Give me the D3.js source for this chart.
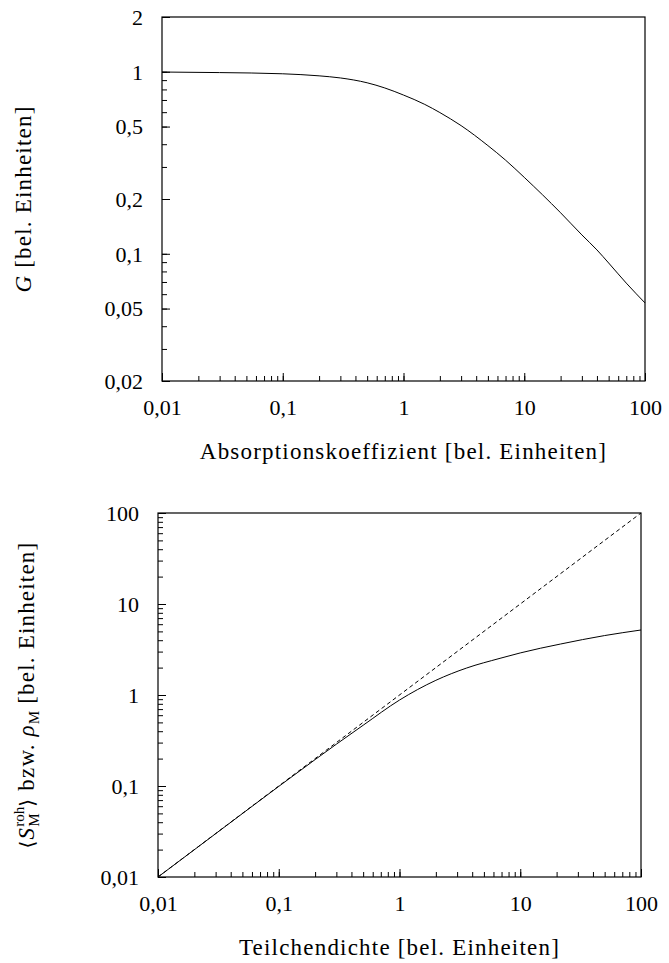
<!DOCTYPE html>
<html>
<head>
<meta charset="utf-8">
<script src="https://cdn.jsdelivr.net/npm/d3@7"></script>
<style>
  body { margin: 0; background: #fff; }
  svg { display: block; }
</style>
</head>
<body>
<div id="chart"></div>
<script>
// top panel: G vs absorption coefficient
const absorbX = [0.01, 0.03, 0.1, 0.2, 0.3, 0.5, 0.7, 1, 1.5, 2, 3, 5, 7, 10, 20, 30, 40, 50, 70, 100];
const gValues = [0.997, 0.99, 0.975, 0.95, 0.925, 0.87, 0.815, 0.745, 0.662, 0.597, 0.506, 0.393, 0.327, 0.263, 0.168, 0.127, 0.105, 0.089, 0.069, 0.0537];

// bottom panel: measured vs true particle density
const densX = [0.01, 0.03, 0.1, 0.2, 0.3, 0.5, 1, 2, 3.6, 6.8, 10, 21.5, 50, 100];
const densMeasured = [0.01, 0.0299, 0.099, 0.195, 0.288, 0.465, 0.88, 1.45, 1.98, 2.53, 2.9, 3.63, 4.5, 5.18];
const diagX = [0.01, 100];
const diagY = [0.01, 100];

const xTicks = [0.01, 0.1, 1, 10, 100];
const xTickLabels = ["0,01", "0,1", "1", "10", "100"];
const topYTicks = [2, 1, 0.5, 0.2, 0.1, 0.05, 0.02];
const topYTickLabels = ["2", "1", "0,5", "0,2", "0,1", "0,05", "0,02"];
const botYTicks = [100, 10, 1, 0.1, 0.01];
const botYTickLabels = ["100", "10", "1", "0,1", "0,01"];

const W = 669, H = 963;
const SERIF = '"Liberation Serif", "Times New Roman", serif';
const svg = d3.select("#chart").append("svg").attr("width", W).attr("height", H)
  .style("font-family", SERIF);

function panel(o) {
  const x = d3.scaleLog().domain([0.01, 100]).range([o.left, o.right]);
  const y = d3.scaleLog().domain(o.yDomain).range([o.bottom, o.top]);
  const g = svg.append("g");

  // minor ticks (no labels)
  g.append("g").attr("transform", `translate(0,${o.bottom})`)
    .call(d3.axisBottom(x).tickValues(x.ticks()).tickSize(-5).tickSizeOuter(0).tickFormat(""))
    .call(a => a.select(".domain").remove());
  g.append("g").attr("transform", `translate(${o.left},0)`)
    .call(d3.axisLeft(y).tickValues(y.ticks()).tickSize(-5).tickSizeOuter(0).tickFormat(""))
    .call(a => a.select(".domain").remove());

  // major ticks + labels
  g.append("g").attr("transform", `translate(0,${o.bottom})`)
    .call(d3.axisBottom(x).tickValues(xTicks).tickSize(-8).tickSizeOuter(0).tickPadding(18)
      .tickFormat((d, i) => xTickLabels[i]))
    .call(a => a.select(".domain").remove());
  g.append("g").attr("transform", `translate(${o.left},0)`)
    .call(d3.axisLeft(y).tickValues(o.yTicks).tickSize(-8).tickSizeOuter(0).tickPadding(19)
      .tickFormat((d, i) => o.yLabels[i]))
    .call(a => a.select(".domain").remove())
    .call(a => a.selectAll("text").attr("dy", "0.33em"));

  g.selectAll(".tick line").attr("stroke", "#000").attr("stroke-width", 1);
  g.selectAll(".tick text")
    .style("font-family", SERIF).style("font-size", "22px").style("fill", "#000");

  const line = d3.line().x(d => x(d[0])).y(d => y(d[1])).curve(d3.curveMonotoneX);
  o.series.forEach(s => {
    g.append("path")
      .datum(d3.zip(s.x, s.y))
      .attr("d", line)
      .attr("fill", "none")
      .attr("stroke", "#000")
      .attr("stroke-width", 1)
      .attr("stroke-dasharray", s.dash || null);
  });

  // frame
  g.append("rect")
    .attr("x", o.left).attr("y", o.top)
    .attr("width", o.right - o.left).attr("height", o.bottom - o.top)
    .attr("fill", "none").attr("stroke", "#000").attr("stroke-width", 1.2);

  // x title
  g.append("text")
    .attr("x", (o.left + o.right) / 2).attr("y", o.bottom + 78)
    .attr("text-anchor", "middle")
    .style("font-family", SERIF).style("font-size", "23px").style("letter-spacing", "1.2px")
    .text(o.xTitle);

  return { g, x, y };
}

const topPanel = panel({
  left: 162, right: 645, top: 17, bottom: 381,
  yDomain: [0.02, 2], yTicks: topYTicks, yLabels: topYTickLabels,
  xTitle: "Absorptionskoeffizient [bel. Einheiten]",
  series: [{ x: absorbX, y: gValues }]
});

const botPanel = panel({
  left: 158, right: 641, top: 513, bottom: 877,
  yDomain: [0.01, 100], yTicks: botYTicks, yLabels: botYTickLabels,
  xTitle: "Teilchendichte [bel. Einheiten]",
  series: [{ x: diagX, y: diagY, dash: "4,3" }, { x: densX, y: densMeasured }]
});

// y titles
const t1 = svg.append("text")
  .attr("transform", "translate(31,199) rotate(-90)")
  .attr("text-anchor", "middle")
  .style("font-family", SERIF).style("font-size", "23px").style("letter-spacing", "1.2px");
t1.append("tspan").style("font-style", "italic").text("G");
t1.append("tspan").text(" [bel. Einheiten]");

const t2 = svg.append("text")
  .attr("transform", "translate(34,695) rotate(-90)")
  .attr("text-anchor", "middle")
  .style("font-family", SERIF).style("font-size", "23px").style("letter-spacing", "1.2px");
t2.append("tspan").style("font-family", '"DejaVu Serif", serif').style("font-size", "20px").text("\u27E8");
t2.append("tspan").style("font-style", "italic").text("S");
t2.append("tspan").style("font-size", "15px").attr("dy", 5).style("letter-spacing", "0px").text("M");
t2.append("tspan").style("font-size", "15px").attr("dx", -13.3).attr("dy", -15).style("letter-spacing", "0px").text("roh");
t2.append("tspan").style("font-family", '"DejaVu Serif", serif').style("font-size", "20px").attr("dy", 10).text("\u27E9");
t2.append("tspan").text(" bzw. ");
t2.append("tspan").style("font-style", "italic").text("\u03C1");
t2.append("tspan").style("font-size", "15px").attr("dy", 5).style("letter-spacing", "0px").text("M");
t2.append("tspan").attr("dy", -5).text(" [bel. Einheiten]");
</script>
</body>
</html>
